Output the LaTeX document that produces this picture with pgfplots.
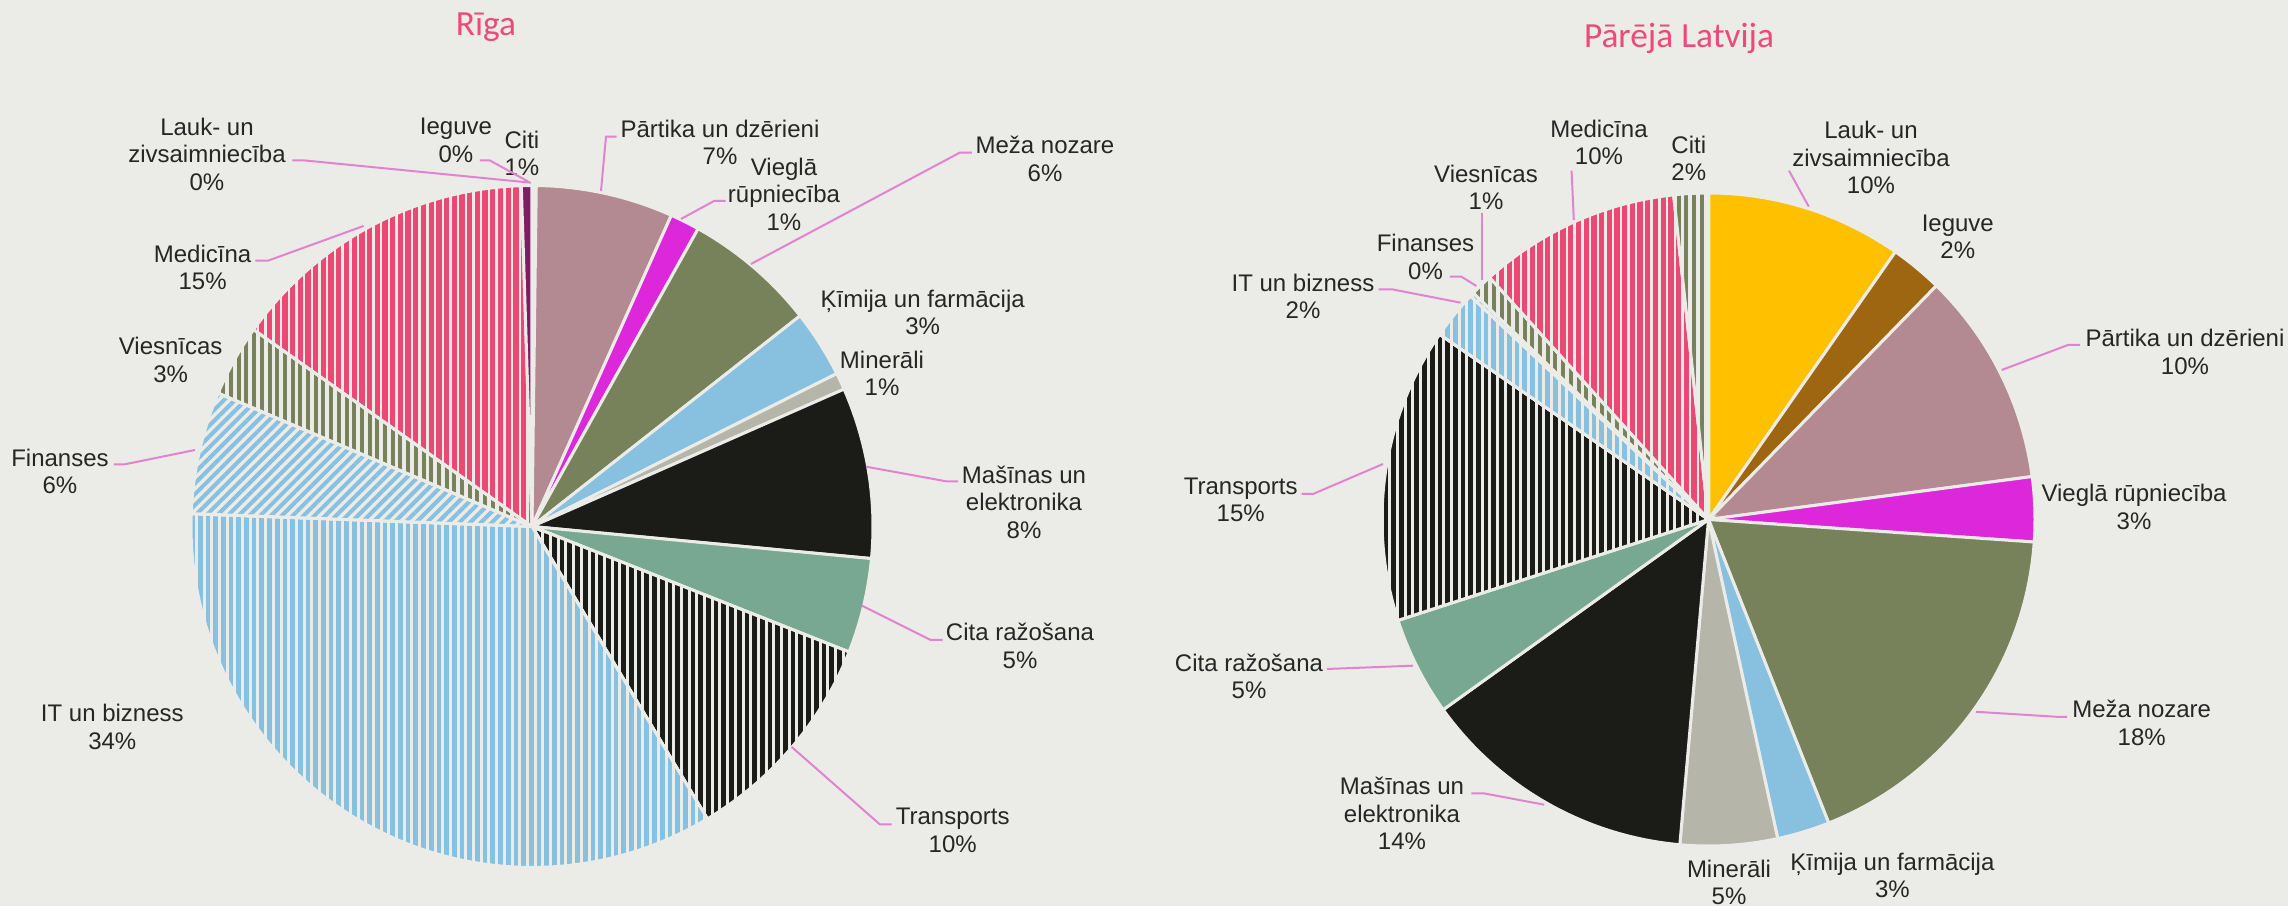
\documentclass[border=0pt]{standalone}
\usepackage{fontspec}
\setmainfont{Liberation Sans}
\newfontfamily\titlefont{Carlito}
\usepackage{pgfplots}
\usepackage{pgfplotstable}
\pgfplotsset{compat=1.18}
\usetikzlibrary{patterns.meta}

\definecolor{bg}{HTML}{EBEBE7}
\definecolor{ttl}{HTML}{EC4A78}
\definecolor{txt}{HTML}{262626}
\definecolor{lead}{HTML}{E283CF}
\definecolor{cLauk}{HTML}{FFC000}
\definecolor{cIeg}{HTML}{9E6610}
\definecolor{cPart}{HTML}{B38A92}
\definecolor{cVieg}{HTML}{DC28DA}
\definecolor{cOlive}{HTML}{78825A}
\definecolor{cBlue}{HTML}{88C0E0}
\definecolor{cMin}{HTML}{B5B5A9}
\definecolor{cBlack}{HTML}{1B1C17}
\definecolor{cCita}{HTML}{78A892}
\definecolor{cPink}{HTML}{EB4874}
\definecolor{cPurp}{HTML}{7B1E63}

% share of each sector, %
\pgfplotstableread[col sep=comma]{
name,val,sty
Lauk- un zivsaimniecība,0.1,sLauk
Ieguve,0.1,sIeg
Pārtika un dzērieni,6.5,sPart
Vieglā rūpniecība,1.4,sVieg
Meža nozare,6.3,sMeza
Ķīmija un farmācija,3.2,sKim
Minerāli,0.8,sMin
Mašīnas un elektronika,8.1,sMas
Cita ražošana,4.5,sCita
Transports,10.4,sTrans
IT un bizness,34.2,sIT
Finanses,5.8,sFin
Viesnīcas,3.4,sVies
Medicīna,14.7,sMed
Citi,0.5,sCitiR
}\riga

\pgfplotstableread[col sep=comma]{
name,val,sty
Lauk- un zivsaimniecība,9.7,sLauk
Ieguve,2.6,sIeg
Pārtika un dzērieni,10.6,sPart
Vieglā rūpniecība,3.2,sVieg
Meža nozare,17.9,sMeza
Ķīmija un farmācija,2.6,sKim
Minerāli,4.8,sMin
Mašīnas un elektronika,13.7,sMas
Cita ražošana,4.9,sCita
Transports,14.6,sTrans
IT un bizness,2.4,sIT
Finanses,0.2,sFin
Viesnīcas,1.1,sVies
Medicīna,10.0,sMed
Citi,1.7,sCitiL
}\latvija

\pgfplotsset{
  edge/.style={draw=bg, line width=0.9pt},
  stripes/.style 2 args={preaction={fill=bg}, pattern={Lines[angle=90,distance=2.31pt,line width=#2]}, pattern color=#1, edge},
  sLauk/.style={fill=cLauk, edge},
  sIeg/.style={fill=cIeg, edge},
  sPart/.style={fill=cPart, edge},
  sVieg/.style={fill=cVieg, edge},
  sMeza/.style={fill=cOlive, edge},
  sKim/.style={fill=cBlue, edge},
  sMin/.style={fill=cMin, edge},
  sMas/.style={fill=cBlack, edge},
  sCita/.style={fill=cCita, edge},
  sTrans/.style={stripes={cBlack}{1.4pt}},
  sIT/.style={stripes={cBlue}{1.4pt}},
  sFin/.style={preaction={fill=bg}, pattern={Lines[angle=45,distance=2.3pt,line width=1.2pt]}, pattern color=cBlue, edge},
  sVies/.style={stripes={cOlive}{1.2pt}},
  sMed/.style={stripes={cPink}{1.6pt}},
  sCitiR/.style={fill=cPurp, edge},
  sCitiL/.style={stripes={cOlive}{1.2pt}},
}

% #1 table, #2 cx, #3 cy, #4 radius (pixels, y down)
\newcommand\drawpie[4]{%
  \pgfplotstablegetrowsof{#1}%
  \pgfmathtruncatemacro\lastrow{\pgfplotsretval-1}%
  \def\acc{0}%
  \pgfplotsforeachungrouped \rowi in {0,...,\lastrow}{%
    \pgfplotstablegetelem{\rowi}{val}\of{#1}\let\sval\pgfplotsretval
    \pgfplotstablegetelem{\rowi}{sty}\of{#1}\let\ssty\pgfplotsretval
    \pgfmathsetmacro\angA{3.6*\acc}%
    \pgfmathsetmacro\acc{\acc+\sval}%
    \pgfmathsetmacro\angB{3.6*\acc}%
    \edef\temp{\noexpand\addplot[\ssty,domain=\angA:\angB,samples=60,variable=\noexpand\t]
      ({#2+#4*sin(\noexpand\t)},{#3-#4*cos(\noexpand\t)}) -- (axis cs:#2,#3) -- cycle;}%
    \temp
  }%
}
\newcommand\lab[3]{\node[lbl] at (axis cs:#1,#2) {#3};}
\tikzset{
  lbl/.style={align=center, inner sep=0pt, text=txt, font=\fontsize{7.2}{8.25}\selectfont},
  ldr/.style={draw=lead, line width=0.6pt},
  ttlnode/.style={inner sep=0pt, text=ttl, font=\titlefont\fontsize{10.6}{12}\selectfont},
}

\begin{document}
\begin{tikzpicture}
\useasboundingbox (0,0) rectangle (686.4pt,271.8pt);
\fill[bg] (0,0) rectangle (686.4pt,271.8pt);
\begin{axis}[
  at={(343.2pt,135.9pt)}, anchor=center,
  scale only axis, width=686.4pt, height=271.8pt,
  xmin=0, xmax=2288, ymin=0, ymax=906, y dir=reverse,
  hide axis, clip=false,
]
\drawpie{\riga}{532}{526.5}{341}
\drawpie{\latvija}{1708.5}{519.5}{326.5}

\node[ttlnode] at (axis cs:486,27) {Rīga};
\node[ttlnode] at (axis cs:1679,38) {Pārējā Latvija};

% Riga labels
\lab{207}{154.3}{Lauk- un\\zivsaimniecība\\0\%}
\lab{456}{140.5}{Ieguve\\0\%}
\lab{522}{153.5}{Citi\\1\%}
\lab{720}{142.5}{Pārtika un dzērieni\\7\%}
\lab{784}{193.9}{Vieglā\\rūpniecība\\1\%}
\lab{1045}{159}{Meža nozare\\6\%}
\lab{922.7}{312.3}{Ķīmija un farmācija\\3\%}
\lab{882}{373.3}{Minerāli\\1\%}
\lab{1024}{502.2}{Mašīnas un\\elektronika\\8\%}
\lab{1020}{645.8}{Cita ražošana\\5\%}
\lab{952.7}{830.5}{Transports\\10\%}
\lab{112.3}{726.7}{IT un bizness\\34\%}
\lab{60}{471.3}{Finanses\\6\%}
\lab{170.7}{360}{Viesnīcas\\3\%}
\lab{202.6}{267.2}{Medicīna\\15\%}

\draw[ldr] (axis cs:292.3,160.3) -- (axis cs:303,160.3) -- (axis cs:530.8,182.7);
\draw[ldr] (axis cs:480,160.3) -- (axis cs:489.6,160.3) -- (axis cs:528.4,181.7);
\draw[ldr] (axis cs:616.6,136.7) -- (axis cs:606,136.7) -- (axis cs:601,191);
\draw[ldr] (axis cs:725.6,201) -- (axis cs:714,201) -- (axis cs:681,219);
\draw[ldr] (axis cs:971.8,152.7) -- (axis cs:959.7,152.7) -- (axis cs:751,264);
\draw[ldr] (axis cs:958,481.4) -- (axis cs:946.7,481.4) -- (axis cs:866,466.7);
\draw[ldr] (axis cs:942.7,640) -- (axis cs:930.7,640) -- (axis cs:861.7,605.6);
\draw[ldr] (axis cs:891.7,824.5) -- (axis cs:880,824.5) -- (axis cs:791.7,747);
\draw[ldr] (axis cs:114,464.3) -- (axis cs:125,464.3) -- (axis cs:195,450);
\draw[ldr] (axis cs:255.5,260.7) -- (axis cs:268,260.7) -- (axis cs:363.6,226);

% Parejā Latvija labels
\lab{1871}{157.6}{Lauk- un\\zivsaimniecība\\10\%}
\lab{1957.8}{237}{Ieguve\\2\%}
\lab{2185}{351.8}{Pārtika un dzērieni\\10\%}
\lab{2134}{507}{Vieglā rūpniecība\\3\%}
\lab{2141.7}{723}{Meža nozare\\18\%}
\lab{1892.4}{875.2}{Ķīmija un farmācija\\3\%}
\lab{1729}{882.2}{Minerāli\\5\%}
\lab{1402}{813.7}{Mašīnas un\\elektronika\\14\%}
\lab{1249}{676.2}{Cita ražošana\\5\%}
\lab{1240.7}{500}{Transports\\15\%}
\lab{1303}{296.6}{IT un bizness\\2\%}
\lab{1425.5}{257}{Finanses\\0\%}
\lab{1486}{187.2}{Viesnīcas\\1\%}
\lab{1599}{142.5}{Medicīna\\10\%}
\lab{1688.8}{158.3}{Citi\\2\%}

\draw[ldr] (axis cs:1571.6,170.7) -- (axis cs:1573.8,220);
\draw[ldr] (axis cs:1482,213) -- (axis cs:1482,280);
\draw[ldr] (axis cs:1789,170.7) -- (axis cs:1808.8,206.7);
\draw[ldr] (axis cs:1449.8,276.7) -- (axis cs:1461.4,276.7) -- (axis cs:1476.4,286);
\draw[ldr] (axis cs:1378.5,289.3) -- (axis cs:1391.8,289.3) -- (axis cs:1460.7,302.7);
\draw[ldr] (axis cs:1301.7,494) -- (axis cs:1313,494) -- (axis cs:1383,464);
\draw[ldr] (axis cs:1327,669) -- (axis cs:1413,665.7);
\draw[ldr] (axis cs:1471.4,793.3) -- (axis cs:1483.5,793.3) -- (axis cs:1544.2,804.7);
\draw[ldr] (axis cs:2080,345) -- (axis cs:2068,345) -- (axis cs:2001.7,370);
\draw[ldr] (axis cs:2067,717) -- (axis cs:2060,717) -- (axis cs:1976,711.8);
\end{axis}
\end{tikzpicture}
\end{document}
